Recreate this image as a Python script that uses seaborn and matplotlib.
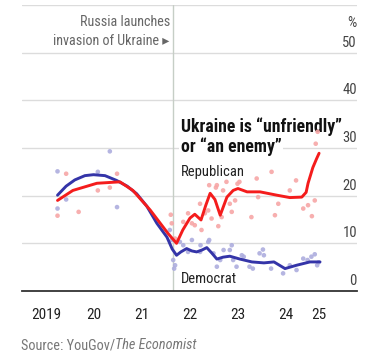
import pandas as pd
import matplotlib.pyplot as plt
import matplotlib.font_manager as fm
import seaborn as sns

# Smoothed trend lines (year, % saying Ukraine is unfriendly / an enemy)
rep_line_x = [2019.74, 2020.06, 2020.56, 2021.04, 2021.31, 2021.67, 2022.04, 2022.22, 2022.35,
              2022.50, 2022.60, 2022.73, 2022.83, 2022.92, 2023.02, 2023.13, 2023.27, 2023.40,
              2023.50, 2023.69, 2023.96, 2024.31, 2024.58, 2024.83, 2024.92, 2024.96, 2025.06,
              2025.14, 2025.19]
rep_line_y = [19.0, 21.1, 22.6, 22.9, 21.1, 17.0, 12.1, 10.0, 12.8,
              15.3, 16.1, 14.9, 18.0, 20.5, 19.2, 15.9, 19.7, 21.1,
              21.5, 20.8, 20.8, 20.1, 19.6, 19.7, 20.7, 22.6, 25.9,
              27.8, 28.9]

dem_line_x = [2019.74, 2019.92, 2020.10, 2020.31, 2020.49, 2020.73, 2020.97, 2021.19, 2021.39,
              2021.60, 2021.81, 2022.02, 2022.13, 2022.22, 2022.31, 2022.43, 2022.54, 2022.64,
              2022.75, 2022.85, 2022.96, 2023.06, 2023.19, 2023.33, 2023.54, 2023.79, 2024.04,
              2024.25, 2024.48, 2024.72, 2025.00, 2025.21]
dem_line_y = [20.1, 22.0, 23.3, 24.2, 24.4, 24.2, 23.2, 22.0, 20.4,
              17.8, 14.2, 11.3, 8.8, 7.5, 8.2, 8.9, 8.4, 8.2,
              8.6, 9.1, 7.9, 6.7, 7.1, 7.3, 6.7, 6.1, 5.9,
              6.1, 4.7, 5.4, 6.1, 6.1]

# Individual poll results
rep_dot_x = [2019.74, 2019.92, 2020.18, 2020.58, 2020.83, 2020.98,
             2022.10, 2022.12, 2022.19, 2022.36, 2022.46, 2022.54, 2022.60, 2022.71, 2022.74,
             2022.81, 2022.88, 2022.90, 2022.95, 2023.04, 2023.06, 2023.09, 2023.16, 2023.19,
             2023.26, 2023.33, 2023.37, 2023.44, 2023.49, 2023.53, 2023.78, 2023.89, 2023.92,
             2024.20, 2024.27, 2024.34, 2024.58, 2024.71, 2024.86, 2024.96, 2025.04, 2025.10,
             2025.12, 2025.16]
rep_dot_y = [15.8, 24.6, 16.6, 21.1, 21.7, 24.6,
             16.0, 14.2, 11.0, 14.5, 16.3, 14.2, 13.8, 18.3, 12.8,
             16.3, 16.9, 22.2, 15.2, 21.7, 22.2, 13.6, 15.5, 21.1,
             22.9, 18.3, 16.6, 19.0, 22.5, 22.9, 15.5, 23.6, 19.7,
             25.0, 15.9, 18.3, 21.1, 23.2, 17.3, 18.0, 15.7, 19.0,
             30.9, 33.4]

dem_dot_x = [2019.74, 2019.74, 2019.92, 2020.58, 2020.83, 2020.98,
             2022.08, 2022.12, 2022.15, 2022.17, 2022.19, 2022.29, 2022.36, 2022.46, 2022.54,
             2022.71, 2022.72, 2022.88, 2022.90, 2022.99, 2023.06, 2023.13, 2023.20, 2023.33,
             2023.37, 2023.40, 2023.47, 2023.58, 2023.62, 2023.74, 2023.81, 2023.95, 2024.02,
             2024.04, 2024.19, 2024.44, 2024.58, 2024.72, 2024.86, 2024.95, 2025.03, 2025.10,
             2025.15, 2025.18]
dem_dot_y = [25.1, 17.3, 19.2, 25.0, 29.3, 17.6,
             12.8, 10.7, 6.5, 4.7, 5.4, 10.3, 9.6, 8.2, 10.7,
             8.2, 9.6, 10.3, 10.7, 7.9, 5.1, 6.5, 8.6, 8.6,
             9.6, 6.5, 5.1, 7.5, 7.2, 5.1, 4.7, 7.9, 8.7,
             7.5, 4.7, 3.7, 5.4, 4.4, 6.8, 6.5, 7.2, 7.7,
             5.4, 6.0]

year_ticks = [2019, 2020, 2021, 2022, 2023, 2024, 2025, 2025.38]
year_labels = ['2019', '20', '21', '22', '23', '24', '25']
y_ticks = [0, 10, 20, 30, 40, 50]
invasion = 2022.15

red, blue = '#f41c1c', '#3434a8'
red_dot, blue_dot = '#f7a6a6', '#adadde'

sns.set_style('white')
names = {f.name for f in fm.fontManager.ttflist}
cond = next((n for n in ['Liberation Sans Narrow', 'Roboto Condensed', 'Roboto'] if n in names), 'DejaVu Sans')
narrow = cond != 'Roboto'
plt.rcParams['font.family'] = [cond, 'DejaVu Sans']
k = 1.0 if narrow else 0.82

fig = plt.figure(figsize=(3.77, 3.57), dpi=100)
ax = fig.add_axes([22 / 377, 1 - 291 / 357, 335 / 377, 286 / 357])

dots = pd.concat([
    pd.DataFrame({'year': rep_dot_x, 'pct': rep_dot_y, 'party': 'Republican'}),
    pd.DataFrame({'year': dem_dot_x, 'pct': dem_dot_y, 'party': 'Democrat'}),
])
sns.scatterplot(data=dots, x='year', y='pct', hue='party',
                palette={'Republican': red_dot, 'Democrat': blue_dot},
                s=11, linewidth=0, alpha=0.9, legend=False, ax=ax, zorder=3)

sns.lineplot(x=dem_line_x, y=dem_line_y, color=blue, lw=2.1, ax=ax, zorder=4)
sns.lineplot(x=rep_line_x, y=rep_line_y, color=red, lw=2.1, ax=ax, zorder=5)

ax.axvline(invasion, color='#c6cec6', lw=1, zorder=1)

ax.set_xlim(2019, 2025.98)
ax.set_ylim(0, 60)
ax.set_yticks([10, 20, 30, 40, 50, 60])
ax.yaxis.grid(True, color='#dcdcdc', lw=1)
ax.set_axisbelow(True)
ax.tick_params(axis='y', length=0, labelleft=False)

ax.set_xticks(year_ticks)
ax.set_xticklabels([])
ax.set_xticks([y + 0.5 for y in year_ticks[:-2]] + [2025.19], minor=True)
ax.set_xticklabels(year_labels, minor=True)
ax.tick_params(axis='x', which='major', direction='out', length=5, width=1.3, color='#333333')
ax.tick_params(axis='x', which='minor', length=0, pad=12, labelsize=11 * k, labelcolor='#222222')
ax.set_xlabel('')
ax.set_ylabel('')

for s in ['left', 'right', 'top']:
    ax.spines[s].set_visible(False)
ax.spines['bottom'].set_color('#333333')
ax.spines['bottom'].set_linewidth(1.3)

for v in y_ticks:
    ax.text(2025.98, v + 0.6, str(v), ha='right', va='bottom', fontsize=10.5, color='#444444')
ax.text(2025.98, 56.3, '%', ha='right', va='center', fontsize=10.5, color='#444444')

ax.text(invasion - 0.07, 54.4, 'Russia launches\ninvasion of Ukraine \u25B8', ha='right', va='center',
        fontsize=10.2 * k, color='#666666', linespacing=1.45)
for txt, yv in [('Ukraine is \u201cunfriendly\u201d', 34.4), ('or \u201can enemy\u201d', 30.2)]:
    ax.text(2022.31, yv, txt, ha='left', va='center', fontsize=12.8 * k, fontweight='bold',
            color='#111111', bbox=dict(facecolor='white', edgecolor='none', pad=1), zorder=2)
ax.text(2022.31, 24.9, 'Republican', ha='left', va='center', fontsize=10.5 * k, color='#222222')
ax.text(2022.31, 2.5, 'Democrat', ha='left', va='center', fontsize=10.5 * k, color='#222222')

t1 = fig.text(21 / 377, 1 - 345 / 357, 'Source: YouGov/', ha='left', va='center',
              fontsize=10.3 * k, color='#777777')
fig.canvas.draw()
bb = t1.get_window_extent()
fig.text(bb.x1 / fig.bbox.width, 1 - 345 / 357, 'The Economist', ha='left', va='center',
         fontsize=10.3 * k, color='#777777', style='italic')

fig.savefig('out.png', dpi=100)
